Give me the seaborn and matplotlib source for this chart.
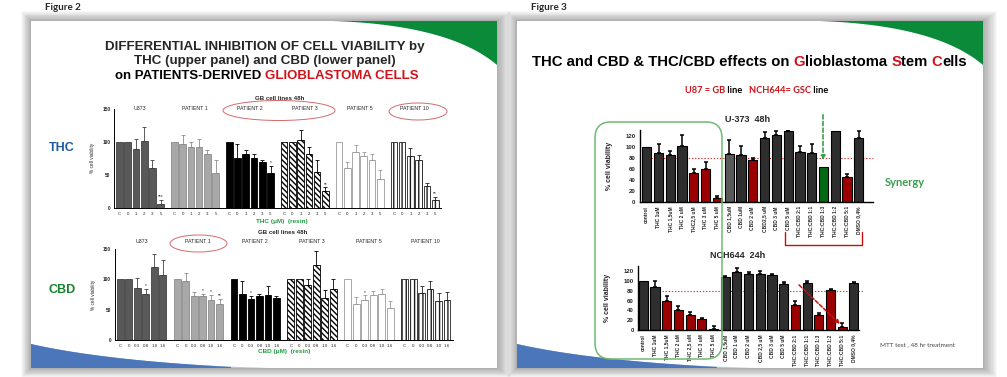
import numpy as np
import matplotlib
matplotlib.use("Agg")
import matplotlib.pyplot as plt
import seaborn as sns
from matplotlib.patches import Rectangle, Polygon, Ellipse, FancyBboxPatch

sns.set_style("white")
plt.rcParams['font.family'] = ['Liberation Sans', 'DejaVu Sans']
plt.rcParams['hatch.linewidth'] = 1.0

NARROW = ['Liberation Sans Narrow', 'Liberation Sans', 'DejaVu Sans']
CAL = ['Lato', 'DejaVu Sans']

# ---------------- Figure 2 data (% cell viability, mean and upper error) ----------------
cell_lines = ["U373", "PATIENT 1", "PATIENT 2", "PATIENT 3", "PATIENT 5", "PATIENT 10"]
thc_doses = ["C", "0", "1", "2", "3", "5"]
cbd_doses = ["C", "0", "0.3", "0.8", "1.0", "1.6"]

thc_mean = [[100, 100, 89, 102, 60, 6],
            [100, 97.5, 92, 92, 82, 52.5],
            [100, 75, 82, 76, 70, 52.5],
            [100, 100, 102.5, 81, 55, 25],
            [100, 60, 85, 79, 72, 43],
            [100, 100, 79, 72, 33, 11]]
thc_err = [[0, 0, 16, 21, 13, 6],
           [0, 13.5, 8.5, 12, 6, 20.5],
           [0, 22.5, 6, 5, 3, 11],
           [0, 0, 15, 12, 17, 6],
           [0, 10, 10, 6, 10, 14],
           [0, 0, 12, 8, 5, 6]]
thc_marks = [(0, 5, "***"), (2, 5, "*"), (3, 5, "**"), (5, 5, "**")]

cbd_mean = [[100, 100, 86, 76, 121, 106.5],
            [100, 98, 72, 72, 67, 60],
            [100, 76, 68, 72, 75, 69],
            [100, 100, 91, 124, 70, 85],
            [100, 60, 67, 74.5, 76, 53],
            [100, 100, 77, 85, 65, 66]]
cbd_err = [[0, 0, 16, 9, 20, 26],
           [0, 12, 7, 4, 8, 8],
           [0, 22, 5.5, 4, 14, 3],
           [0, 0, 9, 22, 12, 15],
           [0, 11, 7, 7, 9, 12],
           [0, 0, 12, 12, 12, 13]]
cbd_marks = [(0, 3, "*"), (1, 3, "*"), (1, 4, "*"), (1, 5, "**"), (2, 2, "*"), (4, 2, "*")]

# ---------------- Figure 3 data ----------------
u373_labels = ["control", "THC 1uM", "THC 1,5uM", "THC 2 uM", "THC2,5 uM", "THC 3 uM", "THC 5 uM",
               "CBD 1,5uM", "CBD 1uM", "CBD 2 uM", "CBD2,5 uM", "CBD 3 uM", "CBD 5 uM",
               "THC:CBD 2:1", "THC:CBD 1:1", "THC:CBD 1:3", "THC:CBD 1:2", "THC:CBD 5:1", "DMSO 0,4%"]
u373_values = [100, 89, 85, 101, 52, 59, 7, 87, 85, 76, 115, 121, 129, 90, 88, 63, 129, 44, 116]
u373_errors = [0, 16, 8, 21, 7, 13, 3, 25, 16, 4, 12, 8, 1, 12, 16, 0, 0, 6, 13]
u373_kind = ["n", "n", "n", "n", "r", "r", "r", "l", "n", "r", "n", "n", "n", "n", "n", "g", "n", "r", "n"]

nch_labels = ["control", "THC 1uM", "THC 1,5uM", "THC 2 uM", "THC 2,5 uM", "THC 3 uM", "THC 5 uM",
              "CBD 1,5uM", "CBD 1 uM", "CBD 2 uM", "CBD 2,5 uM", "CBD 3 uM", "CBD 5 uM",
              "THC:CBD 2:1", "THC:CBD 1:1", "THC:CBD 1:3", "THC:CBD 1:2", "THC:CBD 5:1", "DMSO 0,4%"]
nch_values = [100, 88, 60, 41, 31, 22, 3, 108, 118, 115, 115, 112, 94, 52, 96, 31, 81, 7, 96]
nch_errors = [0, 12, 10, 8, 6, 3, 5, 2, 9, 4, 6, 2, 4, 8, 5, 3, 3, 7, 2]
nch_kind = ["n", "n", "r", "r", "r", "r", "r", "n", "n", "n", "n", "n", "n", "r", "n", "r", "r", "r", "n"]

threshold = 80

# ---------------- styles ----------------
grp_face = ['#595959', '#a8a8a8', '#000000', '#ffffff', '#ffffff', '#ffffff']
grp_edge = ['#404040', '#8c8c8c', '#000000', '#000000', '#9a9a9a', '#202020']
grp_hatch = [None, None, None, '\\\\\\\\\\\\', None, '||||']
kind_color = {"n": '#2e2e2e', "r": '#9b0000', "g": '#006a12', "l": '#5a5a5a'}

W, H = 1007, 377
fig = plt.figure(figsize=(W / 100, H / 100), dpi=100)


def px_axes(x0, y0, x1, y1, z=1):
    return fig.add_axes([x0 / W, 1 - y1 / H, (x1 - x0) / W, (y1 - y0) / H], zorder=z)


# background layer in pixel coordinates
bg = px_axes(0, 0, W, H, z=0)
bg.set_xlim(0, W)
bg.set_ylim(H, 0)
bg.axis('off')


def slide(x0, y0, x1, y1):
    for k in range(12, 0, -1):
        bg.add_patch(Rectangle((x0 - k * 0.8, y0 - k * 0.8), x1 - x0 + k * 2.0, y1 - y0 + k * 1.6,
                               color='black', alpha=0.028, lw=0))
    bg.add_patch(Rectangle((x0, y0), x1 - x0, y1 - y0, color='white', lw=0))
    # green swoosh, top right
    t = np.linspace(0, 1, 40)
    p0, p1, p2 = np.array([x1 - 164, y0]), np.array([x1 - 47, y0 + 4]), np.array([x1, y0 + 44])
    curve = ((1 - t) ** 2)[:, None] * p0 + (2 * t * (1 - t))[:, None] * p1 + (t ** 2)[:, None] * p2
    bg.add_patch(Polygon(np.vstack([curve, [[x1, y0]]]), closed=True, color='#0b8a3a', lw=0))
    # blue swoosh, bottom left
    q0, q1, q2 = np.array([x0, y1 - 24]), np.array([x0 + 70, y1 - 8]), np.array([x0 + 200, y1 - 1])
    curve = ((1 - t) ** 2)[:, None] * q0 + (2 * t * (1 - t))[:, None] * q1 + (t ** 2)[:, None] * q2
    bg.add_patch(Polygon(np.vstack([curve, [[x0 + 200, y1], [x0, y1]]]), closed=True, color='#2a5aa6', lw=0))
    q2b = np.array([x0 + 240, y1])
    curve2 = ((1 - t) ** 2)[:, None] * q0 + (2 * t * (1 - t))[:, None] * np.array([x0 + 90, y1 - 4]) + (t ** 2)[:, None] * q2b
    bg.add_patch(Polygon(np.vstack([curve2, [[x0, y1]]]), closed=True, color='#6d93cf', alpha=0.5, lw=0))


slide(31, 21, 497, 368)
slide(517, 21, 983, 368)

bg.text(45, 7, "Figure 2", family=CAL, fontsize=7, fontweight='bold', va='center')
bg.text(531, 7, "Figure 3", family=CAL, fontsize=7, fontweight='bold', va='center')


def chain(x, y, parts, size, family=None, weight='bold'):
    prev = None
    for txt, col in parts:
        if prev is None:
            prev = bg.text(x, y, txt, color=col, fontsize=size, fontweight=weight, family=family,
                           ha='left', va='baseline')
        else:
            prev = bg.annotate(txt, xy=(1, 0), xycoords=prev, color=col, fontsize=size,
                               fontweight=weight, family=family, ha='left', va='bottom')
    return prev


# Figure 2 headings
bg.text(265, 47, "DIFFERENTIAL INHIBITION OF CELL VIABILITY by", ha='center', va='center',
        fontsize=9.6, fontweight='bold')
bg.text(265, 61, "THC (upper panel) and CBD (lower panel)", ha='center', va='center',
        fontsize=9.6, fontweight='bold')
chain(115, 79, [("on PATIENTS-DERIVED ", 'black'), ("GLIOBLASTOMA CELLS", '#d0121b')], 9.5)
bg.text(280, 98, "GB cell lines 48h", ha='center', va='center', fontsize=4.4, fontweight='bold')
bg.text(283, 232, "GB cell lines 48h", ha='center', va='center', fontsize=4.4, fontweight='bold')
bg.text(282, 221, "THC (\u03bcM)  (resin)", ha='center', va='center', fontsize=4.6, fontweight='bold',
        color='#1f9e3f')
bg.text(284, 351, "CBD (\u03bcM)  (resin)", ha='center', va='center', fontsize=4.6, fontweight='bold',
        color='#1f9e3f')
bg.text(62, 148, "THC", ha='center', va='center', fontsize=9, fontweight='bold', color='#1f5c9e')
bg.text(62, 290, "CBD", ha='center', va='center', fontsize=9, fontweight='bold', color='#17802c')

# Figure 3 headings
chain(532, 66, [("THC and CBD & THC/CBD effects on ", 'black'), ("G", '#d0121b'), ("lioblastoma ", 'black'),
                ("S", '#d0121b'), ("tem ", 'black'), ("C", '#d0121b'), ("ells", 'black')], 10.7)
chain(685, 93, [("U87 = GB", '#d0121b'), (" line   ", 'black'), ("NCH644= GSC", '#d0121b'),
                (" line", 'black')], 6.65, family=CAL)
bg.text(748, 120, "U-373  48h", ha='center', va='center', fontsize=6.5, fontweight='bold')
bg.text(738, 256, "NCH644  24h", ha='center', va='center', fontsize=6.5, fontweight='bold')
bg.text(905, 183, "Synergy", ha='center', va='center', family=CAL, fontsize=8, fontweight='bold',
        color='#3c9c50')
bg.text(917, 345, "MTT test , 48 hr treatment", ha='center', va='center', family=CAL, fontsize=4.6,
        color='#444444')


def fig2_panel(rect, means, errs, doses, marks, gap, label_y):
    ax = px_axes(*rect)
    ax.set_facecolor('none')
    n = len(doses)
    ticks = []
    for g in range(len(means)):
        pos = g * (n + gap) + np.arange(n)
        m = np.asarray(means[g], float)
        e = np.asarray(errs[g], float)
        sns.barplot(x=pos, y=m, native_scale=True, color=grp_face[g], saturation=1,
                    edgecolor=grp_edge[g], linewidth=0.6, hatch=grp_hatch[g], errorbar=None, ax=ax)
        keep = e > 0
        ax.errorbar(pos[keep], m[keep], yerr=[np.zeros(keep.sum()), e[keep]], fmt='none',
                    ecolor=grp_edge[g] if g != 3 else 'black', elinewidth=0.6, capsize=1.3, capthick=0.6)
        ax.text(pos.mean(), label_y, cell_lines[g], ha='center', va='center', fontsize=3.8, clip_on=False)
        ticks.extend(pos)
    for g, i, s in marks:
        x = g * (n + gap) + i
        ax.text(x, means[g][i] + errs[g][i] + 1, s, ha='center', va='bottom', fontsize=3.4)
    ax.set_xlim(-0.62, len(means) * (n + gap) - gap - 0.3)
    ax.set_ylim(0, 150)
    ax.set_xticks(ticks)
    ax.set_xticklabels(doses * len(means), fontsize=3.2)
    ax.set_yticks([0, 50, 100, 150])
    ax.set_yticklabels(["0", "50", "100", "150"], fontsize=3.4, fontweight='bold')
    ax.tick_params(length=1.8, width=0.5, pad=1)
    ax.set_ylabel("% cell viability", fontsize=3.4, labelpad=5)
    ax.set_xlabel("")
    for side in ['top', 'right']:
        ax.spines[side].set_visible(False)
    for side in ['left', 'bottom']:
        ax.spines[side].set_linewidth(0.7)
        ax.spines[side].set_color('black')
    return ax


fig2_panel((114.3, 109, 441, 207.7), thc_mean, thc_err, thc_doses, thc_marks, 0.64, 151)
fig2_panel((115, 249, 453, 340.3), cbd_mean, cbd_err, cbd_doses, cbd_marks, 0.70, 162)


def fig3_panel(rect, labels, values, errors, kinds, xlim, line_span, extra_tick):
    ax = px_axes(*rect)
    ax.set_facecolor('none')
    cols = [kind_color[k] for k in kinds]
    sns.barplot(x=labels, y=values, hue=labels, order=labels, hue_order=labels, palette=cols,
                legend=False, saturation=1, width=0.78, edgecolor='black', linewidth=0.8,
                errorbar=None, ax=ax)
    x = np.arange(len(labels))
    e = np.asarray(errors, float)
    keep = e > 0
    ax.errorbar(x[keep], np.asarray(values, float)[keep], yerr=[np.zeros(keep.sum()), e[keep]],
                fmt='none', ecolor='black', elinewidth=1.1, capsize=1.6, capthick=1.1, zorder=1)
    ax.hlines(threshold, line_span[0], line_span[1], colors='#e03030', linestyles=(0, (1.2, 1.6)),
              lw=0.8, clip_on=False, zorder=0.5)
    ax.set_xlim(*xlim)
    ax.set_ylim(0, 130)
    nt = len(labels) + (1 if extra_tick else 0)
    ax.set_xticks(np.arange(nt))
    ax.set_xticklabels(labels + ([""] if extra_tick else []), rotation=90, fontsize=3.5,
                       family=NARROW, fontweight='bold')
    ax.set_yticks(np.arange(0, 121, 20))
    ax.set_yticklabels([str(v) for v in range(0, 121, 20)], fontsize=4.3, fontweight='bold')
    ax.tick_params(axis='y', length=2.2, width=0.8, pad=1)
    ax.tick_params(axis='x', length=2.2, width=0.6, pad=1)
    ax.set_ylabel("% cell viability", fontsize=5, family=NARROW, fontweight='bold', labelpad=9)
    ax.set_xlabel("")
    for side in ['top', 'right']:
        ax.spines[side].set_visible(False)
    for side in ['left', 'bottom']:
        ax.spines[side].set_linewidth(1.0)
        ax.spines[side].set_color('black')
    return ax


fig3_panel((640, 130.2, 873, 201.7), u373_labels, u373_values, u373_errors, u373_kind,
           (-0.57, 19.2), (0.36, 19.2), True)
fig3_panel((638.3, 266.3, 859.3, 330), nch_labels, nch_values, nch_errors, nch_kind,
           (-0.43, 18.46), (1.57, 18.8), False)

# overlay annotations in pixel coordinates
ov = px_axes(0, 0, W, H, z=10)
ov.set_xlim(0, W)
ov.set_ylim(H, 0)
ov.axis('off')
ov.set_facecolor('none')
for (cx, cy, w, h) in [(279, 110.5, 112, 20), (418, 111.5, 58, 17), (198.5, 243.5, 57, 17)]:
    ov.add_patch(Ellipse((cx, cy), w, h, fill=False, edgecolor='#d46a6a', lw=0.7))
ov.add_patch(FancyBboxPatch((595, 122), 127, 237, boxstyle="round,pad=0,rounding_size=16",
                            fill=False, edgecolor='#72b872', lw=1.1))
ov.plot([785, 785, 862, 862], [232, 245, 245, 232], color='#c81010', lw=1.0)
ov.annotate("", xy=(823, 163), xytext=(823, 112),
            arrowprops=dict(arrowstyle='-|>', color='#3c9c50', lw=1.2, linestyle=(0, (2.5, 1.5)),
                            mutation_scale=6))
ov.annotate("", xy=(842, 326), xytext=(797, 283),
            arrowprops=dict(arrowstyle='-|>', color='#cc1010', lw=1.1, linestyle=(0, (2.5, 1.2)),
                            mutation_scale=6))

fig.savefig("out.png", dpi=100)
